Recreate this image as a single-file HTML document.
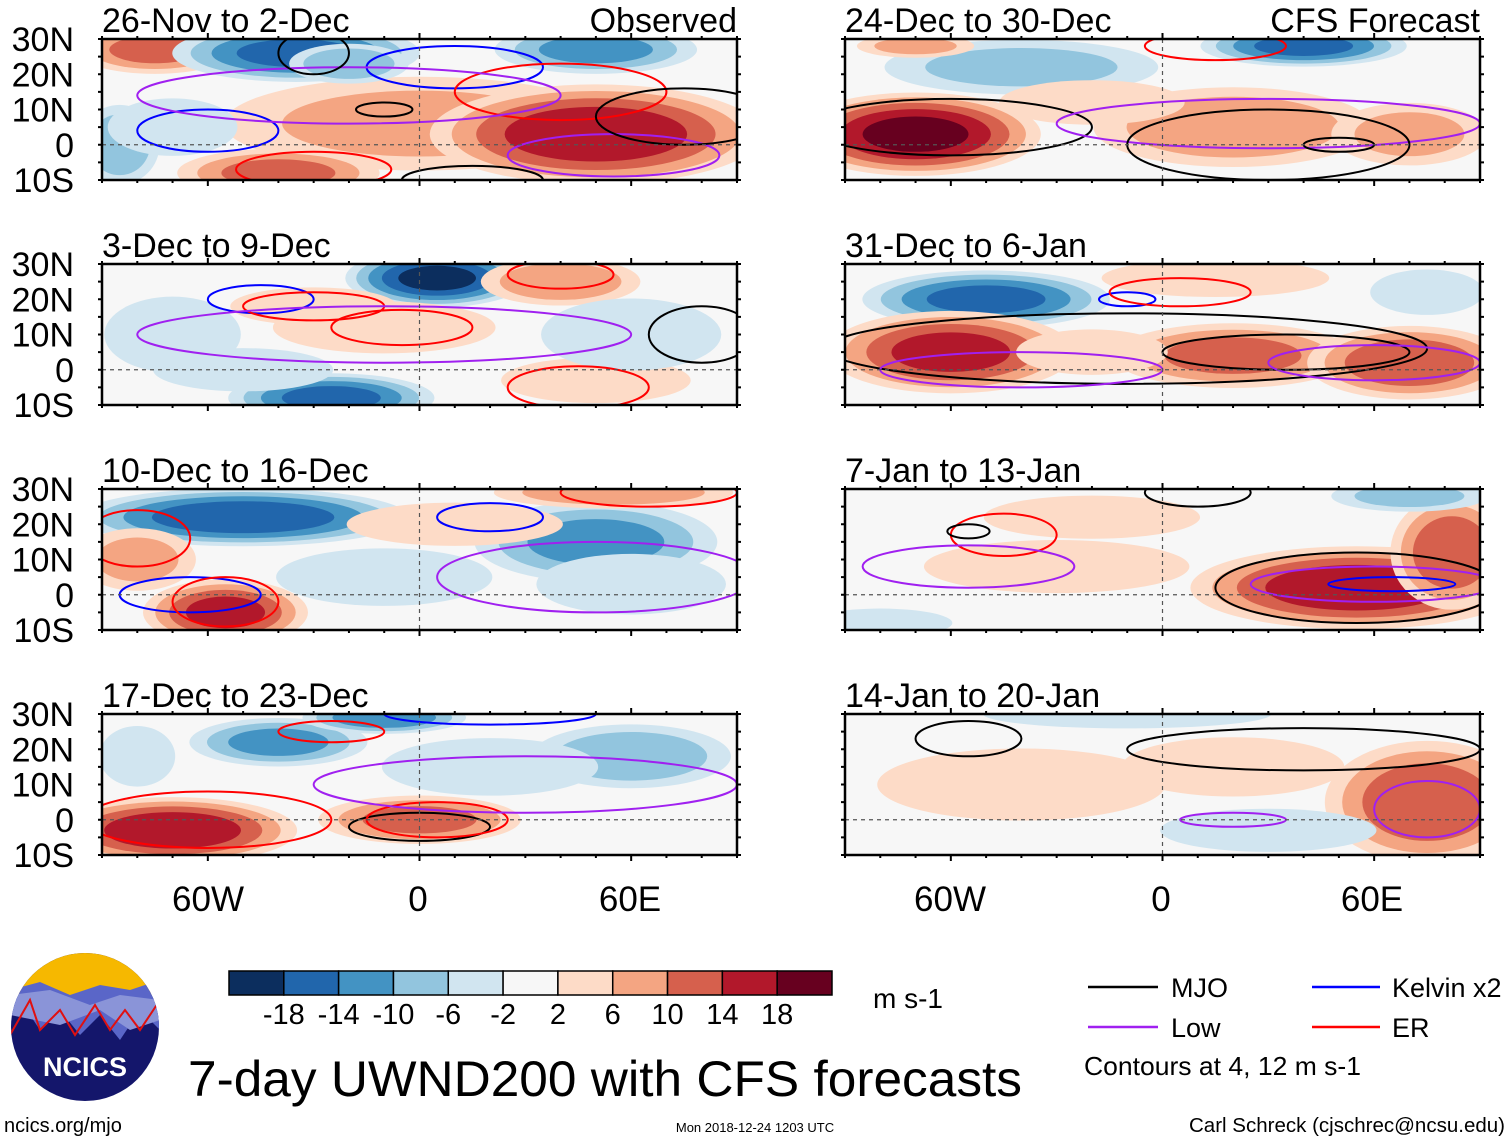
<!DOCTYPE html>
<html><head><meta charset="utf-8"><style>
html,body{margin:0;padding:0;background:#fff;}
svg{display:block;font-family:"Liberation Sans",sans-serif;}
</style></head><body>
<svg id="fig" width="1510" height="1142" viewBox="0 0 1510 1142" xmlns="http://www.w3.org/2000/svg">
<defs id="defs"></defs>
<g id="panels"></g>
<g id="bottom">
  <text x="208" y="911" font-size="35" text-anchor="middle">60W</text>
  <text x="418" y="911" font-size="35" text-anchor="middle">0</text>
  <text x="630" y="911" font-size="35" text-anchor="middle">60E</text>
  <text x="950" y="911" font-size="35" text-anchor="middle">60W</text>
  <text x="1161" y="911" font-size="35" text-anchor="middle">0</text>
  <text x="1372" y="911" font-size="35" text-anchor="middle">60E</text>
  <g id="colorbar"></g>
  <text x="873" y="1008" font-size="28">m s-1</text>
  <g>
    <line x1="1088" y1="987" x2="1158" y2="987" stroke="#000" stroke-width="2.5"/>
    <text x="1171" y="997" font-size="27">MJO</text>
    <line x1="1312" y1="987" x2="1380" y2="987" stroke="#0000ff" stroke-width="2.5"/>
    <text x="1392" y="997" font-size="27">Kelvin x2</text>
    <line x1="1088" y1="1027" x2="1158" y2="1027" stroke="#a020f0" stroke-width="2.5"/>
    <text x="1171" y="1037" font-size="27">Low</text>
    <line x1="1312" y1="1027" x2="1380" y2="1027" stroke="#ff0000" stroke-width="2.5"/>
    <text x="1392" y="1037" font-size="27">ER</text>
    <text x="1084" y="1075" font-size="26" textLength="277" lengthAdjust="spacingAndGlyphs">Contours at 4, 12 m s-1</text>
  </g>
  <text x="188" y="1096" font-size="50" textLength="834" lengthAdjust="spacingAndGlyphs">7-day UWND200 with CFS forecasts</text>
  <text x="4" y="1132" font-size="20">ncics.org/mjo</text>
  <text x="755" y="1132" font-size="13" text-anchor="middle">Mon 2018-12-24 1203 UTC</text>
  <text x="1505" y="1132" font-size="20" text-anchor="end" textLength="316" lengthAdjust="spacingAndGlyphs">Carl Schreck (cjschrec@ncsu.edu)</text>
  <g>
    <clipPath id="logoclip"><ellipse cx="85" cy="1027" rx="74" ry="74"/></clipPath>
    <g clip-path="url(#logoclip)">
      <rect x="10" y="950" width="150" height="160" fill="#14166b"/>
      <rect x="10" y="950" width="150" height="45" fill="#f6b800"/>
      <polygon points="10,990 40,982 70,995 100,985 130,990 160,980 160,1030 140,1010 120,1040 100,1015 80,1035 60,1010 40,1030 20,1000 10,1010" fill="#5a66c8"/>
      <polygon points="10,995 50,990 90,1005 120,995 160,1000 160,1020 130,1030 100,1010 60,1025 10,1015" fill="#8a94d8"/>
      <polyline points="10,1035 30,1000 40,1030 60,1010 75,1035 95,1005 110,1030 125,1010 140,1030 160,1000" fill="none" stroke="#e01010" stroke-width="2"/>
    </g>
    <text x="85" y="1076" font-size="27" font-weight="bold" fill="#fff" text-anchor="middle">NCICS</text>
  </g>
</g>
</svg>
<script>
// Colorbar data
var levels = [-18,-14,-10,-6,-2,2,6,10,14,18];
var binColors = ["#0c2e5e","#2166ac","#4393c3","#92c5de","#d1e5f0","#f7f7f7","#fddbc7","#f4a582","#d6604d","#b2182b","#67001f"];
// Panel metadata
var panelTitles = ["26-Nov to 2-Dec","3-Dec to 9-Dec","10-Dec to 16-Dec","17-Dec to 23-Dec","24-Dec to 30-Dec","31-Dec to 6-Jan","7-Jan to 13-Jan","14-Jan to 20-Jan"];
var latTicks = [30,20,10,0,-10];
var latTickLabels = ["30N","20N","10N","0","10S"];
// Shading blobs: [panel, lon, lat, halfWidthLon, halfHeightLat, peak m/s]
var blobs = [
 [0,0,6,50,12,8],[0,-75,27,20,6,12],[0,-35,26,30,7,-16],[0,-20,23,15,5,-10],[0,50,27,25,6,-12],[0,50,3,40,12,18],[0,-40,-8,25,6,12],[0,-85,0,10,10,-10],[0,-70,5,18,8,-4],
 [1,5,26,22,7,-20],[1,-25,-8,25,6,-16],[1,40,25,20,6,10],[1,-30,18,22,5,6],[1,-10,12,30,7,5],[1,50,-3,25,6,6],[1,-70,10,18,10,-6],[1,60,10,25,10,-4],[1,-50,0,25,6,-4],
 [2,-50,22,40,7,-18],[2,50,15,30,10,-12],[2,-80,10,15,8,8],[2,-55,-5,20,8,16],[2,55,29,30,4,10],[2,60,3,25,8,-6],[2,-10,5,30,8,-4],[2,10,20,30,6,4],
 [3,-70,-3,30,8,18],[3,0,0,25,6,12],[3,-40,22,22,6,-12],[3,60,18,25,8,-10],[3,-10,29,20,4,-14],[3,20,15,30,8,-4],[3,-80,18,10,8,-6],
 [4,-70,3,30,10,20],[4,20,5,35,10,10],[4,40,28,25,5,-16],[4,-40,22,35,7,-8],[4,70,3,20,8,8],[4,-20,12,25,6,5],[4,-70,28,15,3,8],
 [5,-50,20,30,7,-16],[5,-60,5,30,10,16],[5,20,4,30,8,12],[5,70,2,25,9,14],[5,15,26,30,5,6],[5,-20,5,20,6,6],[5,75,22,15,6,-6],
 [6,55,2,40,10,18],[6,82,12,15,14,14],[6,-30,8,35,7,6],[6,-20,22,30,6,4],[6,70,28,20,4,-8],[6,-80,-8,20,4,-4],
 [7,75,5,25,15,14],[7,-40,10,40,10,4],[7,20,15,30,8,5],[7,-10,30,40,4,-4],[7,30,-3,30,6,-4]
];
// Contours: [panel, type(0 MJO,1 Kelvin,2 Low,3 ER), lon, lat, halfWidthLon, halfHeightLat]
var contours = [
 [0,1,-60,4,20,6],[0,1,10,22,25,6],[0,3,-30,-7,22,5],[0,3,40,15,30,8],[0,2,55,-3,30,6],[0,2,-20,14,60,8],[0,0,-30,26,10,6],[0,0,75,8,25,8],[0,0,-10,10,8,2],[0,0,15,-10,20,4],
 [1,1,-45,20,15,4],[1,3,-30,18,20,4],[1,3,-5,12,20,5],[1,2,-10,10,70,8],[1,3,45,-5,20,6],[1,0,80,10,15,8],[1,3,40,27,15,4],
 [2,1,-65,0,20,5],[2,3,-55,-2,15,7],[2,3,-80,16,15,8],[2,1,20,22,15,4],[2,2,50,5,45,10],[2,3,65,29,25,4],
 [3,3,-60,0,35,8],[3,0,0,-2,20,4],[3,3,5,0,20,5],[3,2,30,10,60,8],[3,1,20,30,30,3],[3,3,-25,25,15,3],
 [4,0,-60,5,40,8],[4,2,30,6,60,7],[4,0,50,0,10,2],[4,3,15,28,20,4],[4,0,30,0,40,10],
 [5,0,-10,6,85,10],[5,0,35,5,35,5],[5,2,-40,0,40,5],[5,2,60,2,30,5],[5,1,-10,20,8,2],[5,3,5,22,20,4],
 [6,3,-45,17,15,6],[6,0,-55,18,6,2],[6,0,55,2,40,10],[6,2,60,3,35,5],[6,1,65,3,18,2],[6,2,-55,8,30,6],[6,0,10,29,15,4],
 [7,0,-55,23,15,5],[7,0,40,20,50,6],[7,2,75,3,15,8],[7,2,20,0,15,2]
];
var contourColors = ["#000000","#0000ff","#a020f0","#ff0000"];

var NS="http://www.w3.org/2000/svg";
var LEFTX=[102,845], PW=635, PTOP=[39,264,489,714], PH=141;
var SPREAD=1.25;
function mk(t,a,p){var e=document.createElementNS(NS,t);for(var k in a)e.setAttribute(k,a[k]);p.appendChild(e);return e;}
function xScale(col,lon){return LEFTX[col]+(lon+90)/180*PW;}
function yScale(row,lat){return PTOP[row]+(30-lat)/40*PH;}
function binOf(v){var i=0;while(i<levels.length&&v>levels[i])i++;return i;}

var panelsG=document.getElementById('panels');
var defs=document.getElementById('defs');
for(var p=0;p<8;p++){
  var col=p<4?0:1,row=p%4,x0=LEFTX[col],y0=PTOP[row];
  var g=mk('g',{},panelsG);
  
  
  var cp=mk('clipPath',{id:'cp'+p},defs);mk('rect',{x:x0,y:y0,width:PW,height:PH},cp);
  var inner=mk('g',{'clip-path':'url(#cp'+p+')'},g);
  mk('rect',{x:x0,y:y0,width:PW,height:PH,fill:binColors[5]},inner);
  blobs.forEach(function(b){
    if(b[0]!==p)return;
    var pk=b[5],sg=pk>0?1:-1,a=Math.abs(pk);
    var thr=[2,6,10,14,18];
    for(var i=0;i<thr.length;i++){
      if(a<=thr[i])break;
      var s=Math.pow(1-thr[i]/(a+3),0.6)*SPREAD;
      var cx=xScale(col,b[1]),cy=yScale(row,b[2]);
      var rx=b[3]/180*PW*s,ry=b[4]/40*PH*s;
      var e=mk('ellipse',{cx:cx,cy:cy,rx:rx,ry:ry,fill:binColors[binOf(sg*(thr[i]+0.1))]},inner);
      
      
    }
  });
  contours.forEach(function(c){
    if(c[0]!==p)return;
    var e=mk('ellipse',{cx:xScale(col,c[2]),cy:yScale(row,c[3]),rx:c[4]/180*PW,ry:c[5]/40*PH,fill:'none',stroke:contourColors[c[1]],'stroke-width':2},inner);
    
    
  });
  var eq=mk('line',{x1:x0,x2:x0+PW,y1:yScale(row,0),y2:yScale(row,0),stroke:'#555','stroke-width':1.2,'stroke-dasharray':'4,4'},g);
  
  
  var mer=mk('line',{x1:xScale(col,0),x2:xScale(col,0),y1:y0,y2:y0+PH,stroke:'#555','stroke-width':1.2,'stroke-dasharray':'4,4'},g);
  
  
  var fr=mk('rect',{x:x0,y:y0,width:PW,height:PH,fill:'none',stroke:'#000','stroke-width':2.5},g);
  
  
  for(var lon=-90;lon<=90;lon+=10){
    var xx=xScale(col,lon),maj=(lon%60===0);
    mk('line',{x1:xx,x2:xx,y1:y0+PH,y2:y0+PH+(maj?6:3),stroke:'#000','stroke-width':2},g);
    mk('line',{x1:xx,x2:xx,y1:y0,y2:y0-(maj?6:3),stroke:'#000','stroke-width':2},g);
  }
  for(var lat=-10;lat<=30;lat+=5){
    var yy=yScale(row,lat);
    mk('line',{x1:x0,x2:x0-4,y1:yy,y2:yy,stroke:'#000','stroke-width':2},g);
    mk('line',{x1:x0+PW,x2:x0+PW+4,y1:yy,y2:yy,stroke:'#000','stroke-width':2},g);
  }
  var t=mk('text',{x:x0,y:y0-7,'font-size':34},g);t.textContent=panelTitles[p];
  
  
  if(row===0){
    var r=mk('text',{x:x0+PW,y:y0-7,'font-size':34,'text-anchor':'end'},g);
    r.textContent=col===0?'Observed':'CFS Forecast';
    
    
  }
  if(col===0){
    latTicks.forEach(function(lt,i){
      var l=mk('text',{x:74,y:yScale(row,lt)+12,'font-size':34,'text-anchor':'end'},g);
      l.textContent=latTickLabels[i];
      
      
    });
  }
}
// colorbar
var cb=document.getElementById('colorbar');
var cbX=229,cbW=603,cbY=971,cbH=24,bw=cbW/binColors.length;
binColors.forEach(function(c,i){
  var r=mk('rect',{x:cbX+i*bw,y:cbY,width:bw,height:cbH,fill:c,stroke:'#000','stroke-width':1.5},cb);
  
  
});
levels.forEach(function(v,i){
  var t=mk('text',{x:cbX+(i+1)*bw,y:1024,'font-size':29,'text-anchor':'middle'},cb);
  t.textContent=String(v);
  
  
});
</script>
</body></html>
